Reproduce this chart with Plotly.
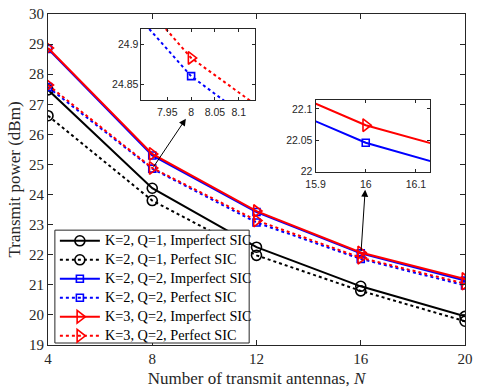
import plotly.graph_objects as go

N = [4, 8, 12, 16, 20]
k2q1_imperfect = [27.48, 24.21, 22.25, 20.95, 19.95]
k2q1_perfect = [26.62, 23.80, 21.98, 20.80, 19.79]
k2q2_imperfect = [28.84, 25.30, 23.42, 22.046, 21.14]
k2q2_perfect = [27.57, 24.860, 23.07, 21.86, 20.98]
k3q2_imperfect = [28.87, 25.35, 23.45, 22.074, 21.19]
k3q2_perfect = [27.64, 24.883, 23.14, 21.90, 21.04]

names = ["K=2, Q=1, Imperfect SIC", "K=2, Q=1, Perfect SIC",
         "K=2, Q=2, Imperfect SIC", "K=2, Q=2, Perfect SIC",
         "K=3, Q=2, Imperfect SIC", "K=3, Q=2, Perfect SIC"]
series = [k2q1_imperfect, k2q1_perfect, k2q2_imperfect, k2q2_perfect,
          k3q2_imperfect, k3q2_perfect]
colors = ["black", "black", "#0000ff", "#0000ff", "#ff0000", "#ff0000"]
dashes = ["solid", "dot", "solid", "dot", "solid", "dot"]
symbols = ["circle-open", "circle-open", "square-open", "square-open",
           "triangle-right-open", "triangle-right-open"]
msizes = [10, 10, 7, 7, 11, 11]

inset1_x_ticks = [7.95, 8, 8.05, 8.1]
inset1_x_text = ["7.95", "8", "8.05", "8.1"]
inset1_y_ticks = [24.85, 24.9]
inset1_y_text = ["24.85", "24.9"]
inset2_x_ticks = [15.9, 16, 16.1]
inset2_x_text = ["15.9", "16", "16.1"]
inset2_y_ticks = [22, 22.05, 22.1]
inset2_y_text = ["22", "22.05", "22.1"]

axcol = "#262626"
fig = go.Figure()

for i in range(6):
    fig.add_trace(go.Scatter(
        x=N, y=series[i],
        name='<span style="font-size:14.3px">' + names[i] + '</span>',
        mode="lines+markers",
        line=dict(color=colors[i], width=2, dash=dashes[i]),
        marker=dict(symbol=symbols[i], size=msizes[i], color=colors[i],
                    line=dict(width=1.6, color=colors[i])),
        xaxis="x", yaxis="y"))

# inset 1 (perfect SIC, Q=2)
for i in [3, 5]:
    fig.add_trace(go.Scatter(
        x=N, y=series[i], mode="lines+markers", showlegend=False,
        line=dict(color=colors[i], width=2, dash=dashes[i]),
        marker=dict(symbol=symbols[i], size=msizes[i], color=colors[i],
                    line=dict(width=1.6, color=colors[i])),
        xaxis="x2", yaxis="y2"))
# inset 2 (imperfect SIC, Q=2)
for i in [2, 4]:
    fig.add_trace(go.Scatter(
        x=N, y=series[i], mode="lines+markers", showlegend=False,
        line=dict(color=colors[i], width=2, dash=dashes[i]),
        marker=dict(symbol=symbols[i], size=msizes[i], color=colors[i],
                    line=dict(width=1.6, color=colors[i])),
        xaxis="x3", yaxis="y3"))

serif = "Liberation Serif"
sans = "Liberation Sans"

main_ax = dict(showline=True, linecolor=axcol, linewidth=1, mirror="ticks",
               ticks="inside", ticklen=5, tickcolor=axcol, showgrid=False,
               zeroline=False, ticklabeloverflow="allow",
               tickfont=dict(family=serif, size=15, color=axcol))
inset_ax = dict(showline=True, linecolor=axcol, linewidth=1, mirror="ticks",
                ticks="inside", ticklen=3, tickcolor=axcol, showgrid=False,
                zeroline=False, tickfont=dict(family=sans, size=10.5, color=axcol),
                tickmode="array")

fig.update_layout(
    width=479, height=392,
    margin=dict(l=48, r=6, t=11, b=47),
    paper_bgcolor="white", plot_bgcolor="white",
    xaxis=dict(range=[4, 20], dtick=4, tick0=4, domain=[0, 1],
               title=dict(text="Number of transmit antennas, <i>N</i>",
                          font=dict(family=serif, size=17, color=axcol), standoff=6),
               **main_ax),
    yaxis=dict(range=[19, 30], dtick=1, domain=[0, 1],
               title=dict(text="Transmit power (dBm)",
                          font=dict(family=serif, size=17, color=axcol), standoff=4),
               **main_ax),
    xaxis2=dict(range=[7.896, 8.134], domain=[0.2242, 0.4965], anchor="y2",
                tickvals=inset1_x_ticks, ticktext=inset1_x_text,
                ticklabelstandoff=2, **inset_ax),
    yaxis2=dict(range=[24.83, 24.92], domain=[0.7404, 0.956], anchor="x2",
                tickvals=inset1_y_ticks, ticktext=inset1_y_text, **inset_ax),
    xaxis3=dict(range=[15.9, 16.128], domain=[0.6416, 0.916], anchor="y3",
                tickvals=inset2_x_ticks, ticktext=inset2_x_text,
                ticklabelstandoff=3, **inset_ax),
    yaxis3=dict(range=[22, 22.115], domain=[0.524, 0.7416], anchor="x3",
                tickvals=inset2_y_ticks, ticktext=inset2_y_text, **inset_ax),
    legend=dict(x=0.0165, y=-0.016, xanchor="left", yanchor="bottom",
                bgcolor="rgba(0,0,0,0)", borderwidth=0,
                font=dict(family=serif, size=11, color="black"),
                tracegroupgap=0, itemwidth=40),
    showlegend=True,
)

# legend frame (opaque white box like the reference)
fig.add_shape(type="rect", xref="paper", yref="paper",
              x0=0.0165, x1=0.4824, y0=0.006, y1=0.347,
              fillcolor="white", line=dict(color=axcol, width=1), layer="above")

fig.add_annotation(x=9.29, y=26.52, ax=8.01, ay=24.87, xref="x", yref="y",
                   axref="x", ayref="y", showarrow=True, arrowhead=2,
                   arrowsize=1.4, arrowwidth=1, arrowcolor="black", text="")
fig.add_annotation(x=16.17, y=24.16, ax=16.01, ay=22.07, xref="x", yref="y",
                   axref="x", ayref="y", showarrow=True, arrowhead=2,
                   arrowsize=1.4, arrowwidth=1, arrowcolor="black", text="")

fig.write_html("out.html")
